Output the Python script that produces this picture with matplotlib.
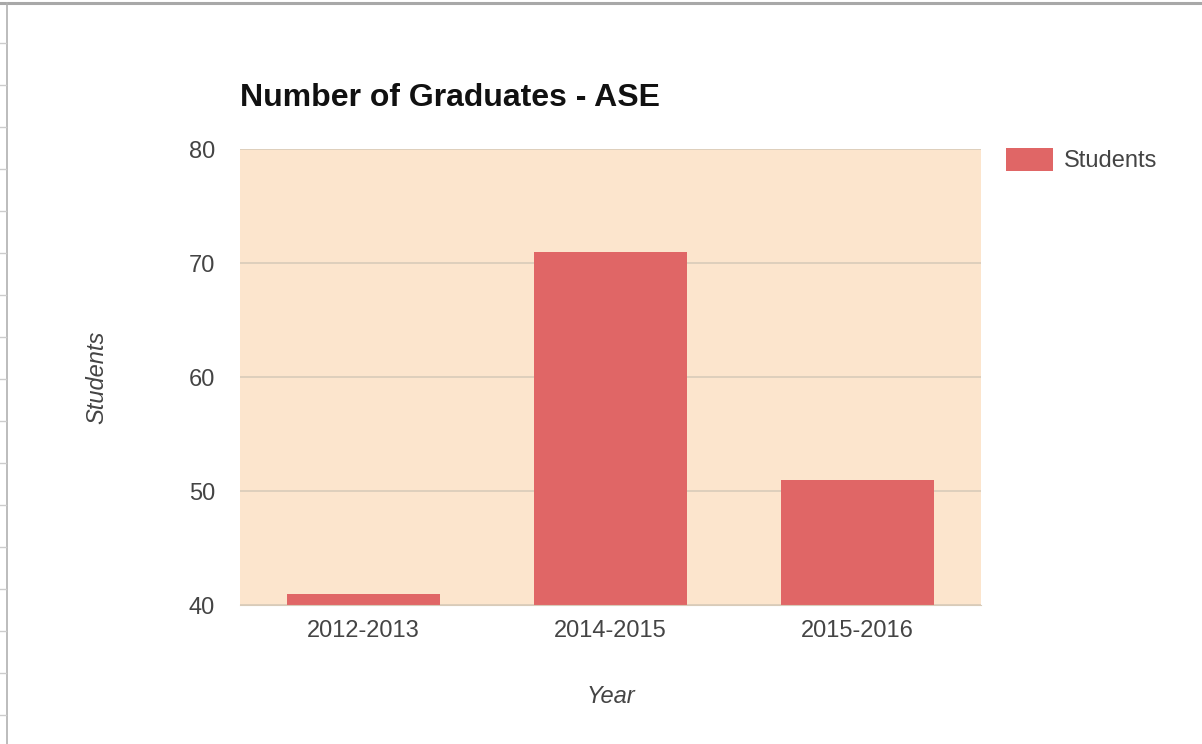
import matplotlib
matplotlib.use("Agg")
import matplotlib.pyplot as plt
from matplotlib.lines import Line2D
import numpy as np

plt.rcParams['font.family'] = ['Liberation Sans', 'DejaVu Sans']

# Graduates per academic year
years = ["2012-2013", "2014-2015", "2015-2016"]
students = [41, 71, 51]
y_ticks = [40, 50, 60, 70, 80]

BAR_COLOUR = "#E06666"
PLOT_BG = "#FCE5CD"
GRID_COLOUR = "#D8CBB9"
TEXT_COLOUR = "#444444"
FONT_SIZE = 17

fig = plt.figure(figsize=(12.02, 7.44), dpi=100)
fig.patch.set_facecolor("white")

ax = fig.add_axes([240 / 1202, 1 - 605 / 744, 741 / 1202, 456 / 744])
ax.set_facecolor(PLOT_BG)

x = np.arange(len(years))
ax.bar(x, np.array(students) - y_ticks[0], bottom=y_ticks[0], width=0.62,
       color=BAR_COLOUR, zorder=3, label="Students")

ax.set_xlim(-0.5, len(years) - 0.5)
ax.set_ylim(y_ticks[0], y_ticks[-1])
ax.set_yticks(y_ticks)
ax.set_xticks(x)
ax.set_xticklabels(years)
ax.tick_params(axis="both", length=0, labelsize=FONT_SIZE, colors=TEXT_COLOUR)
ax.tick_params(axis="y", pad=18)
ax.tick_params(axis="x", pad=11)

ax.grid(axis="y", color=GRID_COLOUR, linewidth=1.2, zorder=1)
for side in ["top", "right", "left"]:
    ax.spines[side].set_visible(False)
ax.spines["bottom"].set_color(GRID_COLOUR)
ax.spines["bottom"].set_zorder(4)

ax.set_xlabel("Year", fontsize=FONT_SIZE, style="italic", color=TEXT_COLOUR,
              labelpad=31)
ax.set_ylabel("Students", fontsize=FONT_SIZE, style="italic",
              color=TEXT_COLOUR, labelpad=58)

fig.text(240 / 1202, 1 - 98 / 744, "Number of Graduates - ASE",
         fontsize=23, fontweight="bold", color="#111111",
         ha="left", va="center")

ax.legend(loc="upper left", bbox_to_anchor=(1001 / 1202, 1 - 143 / 744),
          bbox_transform=fig.transFigure, frameon=False, fontsize=FONT_SIZE,
          handlelength=2.0, handleheight=1.15, handletextpad=0.45,
          borderaxespad=0, borderpad=0.2, labelcolor=TEXT_COLOUR)

# spreadsheet frame around the chart
fig.add_artist(Line2D([0, 1], [1 - 3 / 744] * 2, color="#A8A8A8",
                      linewidth=2.2, transform=fig.transFigure))
fig.add_artist(Line2D([7 / 1202] * 2, [0, 1 - 3 / 744], color="#B0B0B0",
                      linewidth=1.2, transform=fig.transFigure))
for row_y in range(43, 744, 42):
    fig.add_artist(Line2D([0, 6 / 1202], [1 - row_y / 744] * 2,
                          color="#CCCCCC", linewidth=1,
                          transform=fig.transFigure))

fig.savefig("out.png", dpi=100, facecolor="white")
